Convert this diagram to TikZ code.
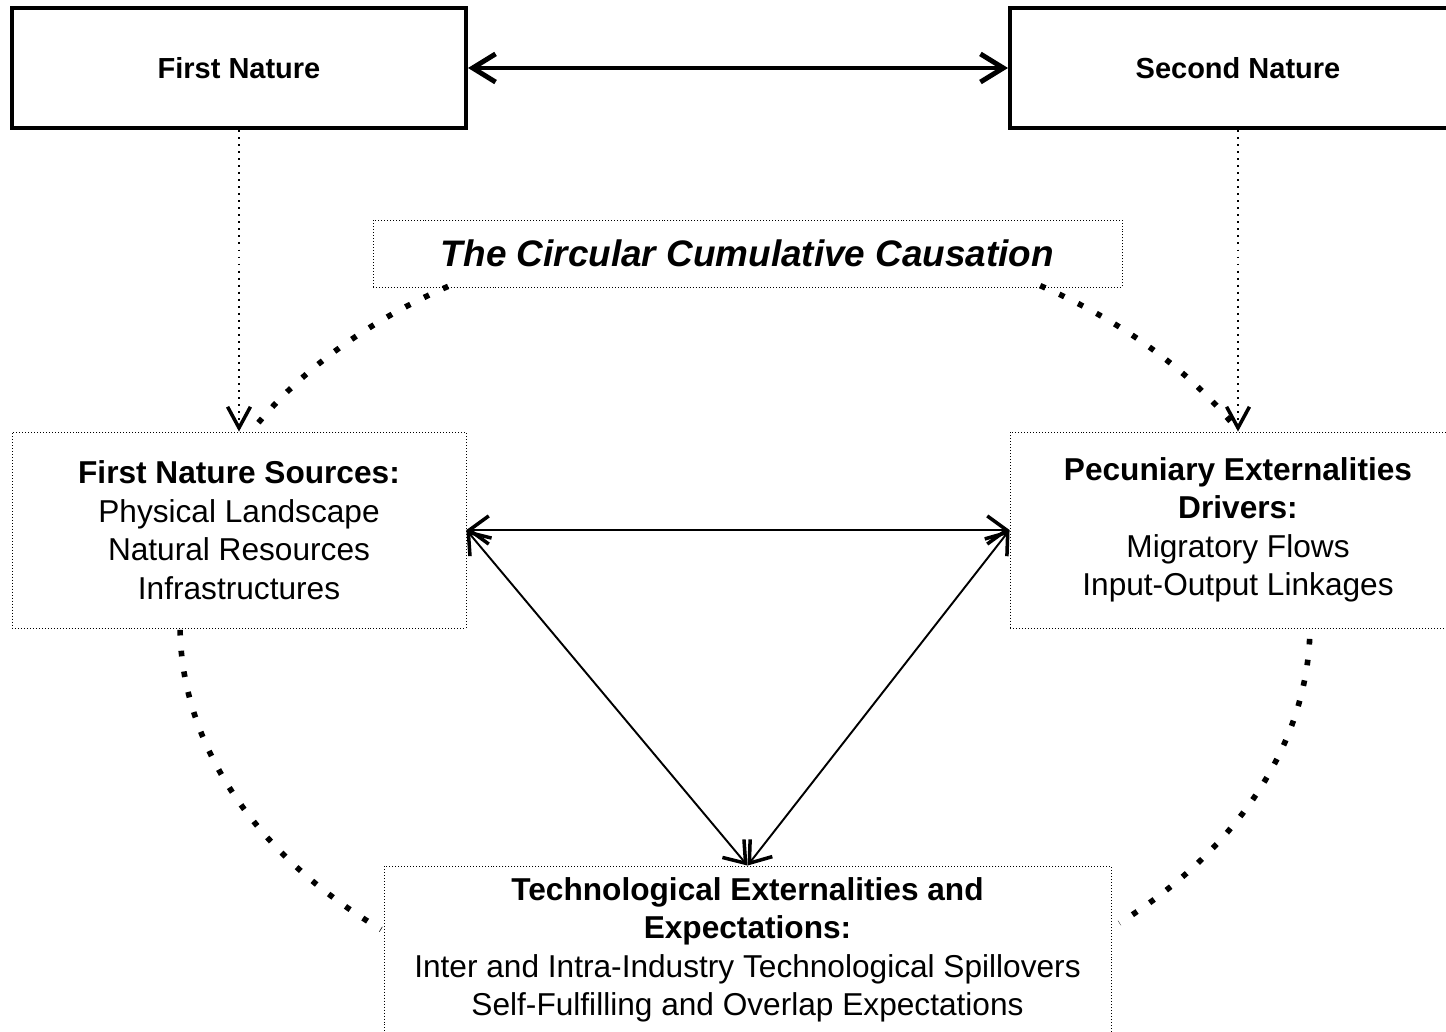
\documentclass[tikz,border=0pt]{standalone}
\usepackage{fontspec}
\setmainfont{Liberation Sans}
\usetikzlibrary{arrows.meta}

\begin{document}
\begin{tikzpicture}[
    nature node/.style={rectangle,draw,line width=2.3pt,minimum width=9.08cm,minimum height=2.4cm,inner sep=0pt,font=\fontsize{16.5}{20}\selectfont\bfseries},
    source node/.style={rectangle,draw,line width=0.5pt,dash pattern=on 0.5pt off 1.2pt,align=center,minimum height=3.92cm,inner sep=0pt,font=\fontsize{18}{21.9}\selectfont},
    thin dots/.style={line width=1.1pt,dash pattern=on 1.1pt off 2.9pt,-{Straight Barb[length=12pt,width=13pt,line width=2pt]}},
    big dots/.style={line width=3.2pt,dash pattern=on 3.2pt off 8.7pt},
    link/.style={line width=1.1pt,{Straight Barb[length=11pt,width=16pt,line width=2pt]}-{Straight Barb[length=11pt,width=16pt,line width=2pt]}}]
  \useasboundingbox (0,0) rectangle (28.92,20.64);

  \node[nature node] (fn) at (4.78,19.28) {First Nature};
  \node[nature node,minimum width=9.12cm] (sn) at (24.76,19.28) {Second Nature};
  \node[source node,minimum width=14.98cm,minimum height=1.34cm,font=\fontsize{21}{25}\selectfont\bfseries\itshape] (ccc) at (14.95,15.57) {The Circular Cumulative Causation};

  \node[source node,minimum width=9.08cm] (fns) at (4.78,10.04) {\textbf{First Nature Sources:}\\Physical Landscape\\Natural Resources\\Infrastructures};
  \node[source node,minimum width=9.12cm] (ped) at (24.76,10.04) {\textbf{Pecuniary Externalities}\\\textbf{Drivers:}\\Migratory Flows\\Input-Output Linkages};
  \node[source node,minimum width=14.54cm,minimum height=3.36cm] (tee) at (14.95,1.64) {\textbf{Technological Externalities and}\\\textbf{Expectations:}\\Inter and Intra-Industry Technological Spillovers\\Self-Fulfilling and Overlap Expectations};

  % centre of the causation loop
  \coordinate (loop) at (14.9,8.14);

  \path[line width=2.3pt,{Straight Barb[length=13pt,width=16pt,line width=2.8pt]}-{Straight Barb[length=13pt,width=16pt,line width=2.8pt]}] (fn) edge (sn);
  \path[thin dots] (fn) edge (fns);
  \path[thin dots] (sn) edge (ped);

  \path[link] (fns.east) edge (ped.west);
  \path[link] (fns.east) edge (tee.north);
  \path[link] (ped.west) edge (tee.north);

  \draw[big dots] (loop) ++(121.7:11.3cm and 7.96cm) arc[start angle=121.7,end angle=151,x radius=11.3cm,y radius=7.96cm];
  \draw[big dots] (loop) ++(58.5:11.3cm and 7.96cm) arc[start angle=58.5,end angle=30.5,x radius=11.3cm,y radius=7.96cm];
  \draw[big dots] (loop) ++(180.7:11.3cm and 7.96cm) arc[start angle=180.7,end angle=229.9,x radius=11.3cm,y radius=7.96cm];
  \draw[big dots] (loop) ++(-2:11.3cm and 7.96cm) arc[start angle=-2,end angle=-48.5,x radius=11.3cm,y radius=7.96cm];
\end{tikzpicture}
\end{document}
